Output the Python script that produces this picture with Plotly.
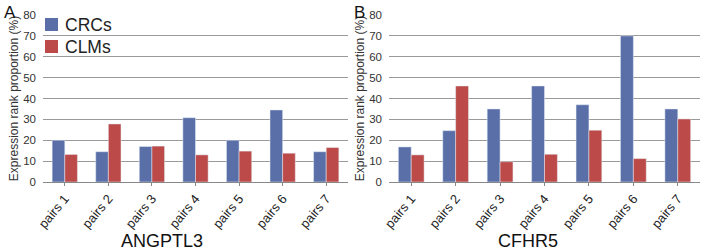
import plotly.graph_objects as go

categories = ["pairs 1", "pairs 2", "pairs 3", "pairs 4", "pairs 5", "pairs 6", "pairs 7"]
angptl3_crc = [20.0, 14.5, 17.0, 30.8, 20.0, 34.5, 14.5]
angptl3_clm = [13.2, 27.8, 17.2, 13.0, 14.8, 13.8, 16.5]
cfhr5_crc = [16.8, 24.6, 35.0, 46.0, 37.0, 70.0, 35.0]
cfhr5_clm = [13.0, 46.0, 9.7, 13.3, 24.8, 11.2, 30.2]
yticks = [0, 10, 20, 30, 40, 50, 60, 70, 80]
series_names = ["CRCs", "CLMs"]

BLUE = "#5A6FA8"
RED = "#BC4A48"
FONT = "Liberation Sans, Arial, sans-serif"

fig = go.Figure()
fig.add_trace(go.Bar(x=categories, y=angptl3_crc, name=series_names[0], marker_color=BLUE,
                     xaxis="x", yaxis="y", showlegend=False))
fig.add_trace(go.Bar(x=categories, y=angptl3_clm, name=series_names[1], marker_color=RED,
                     xaxis="x", yaxis="y", showlegend=False))
fig.add_trace(go.Bar(x=categories, y=cfhr5_crc, name=series_names[0], marker_color=BLUE,
                     xaxis="x2", yaxis="y2", showlegend=False))
fig.add_trace(go.Bar(x=categories, y=cfhr5_clm, name=series_names[1], marker_color=RED,
                     xaxis="x2", yaxis="y2", showlegend=False))

W, H = 704, 251
ydom = [(H - 182) / H, (H - 15) / H]

xcommon = dict(showgrid=False, showline=True, linecolor="#888", linewidth=1,
               ticks="outside", ticklen=3, tickcolor="#888", tickangle=-50,
               automargin=False,
               tickfont=dict(family=FONT, size=13, color="#222"))
ycommon = dict(range=[0, 80], tickvals=yticks, showgrid=True, gridcolor="#9a9a9a",
               gridwidth=1, showline=False, zeroline=False, ticks="",
               automargin=False, ticklabelstandoff=6,
               tickfont=dict(family=FONT, size=11.5, color="#333"),
               title=dict(text="Expression rank proportion (%)",
                          font=dict(family=FONT, size=12, color="#333"), standoff=2))


def px_x(v):
    return v / W


def px_y(v):
    return (H - v) / H


shapes = [
    dict(type="rect", xref="paper", yref="paper", x0=px_x(45), x1=px_x(58),
         y0=px_y(31), y1=px_y(18), fillcolor=BLUE, line=dict(width=0)),
    dict(type="rect", xref="paper", yref="paper", x0=px_x(45), x1=px_x(58),
         y0=px_y(53), y1=px_y(40), fillcolor=RED, line=dict(width=0)),
]

annotations = [
    dict(text=series_names[0], x=px_x(63), y=px_y(25), xanchor="left", yanchor="middle",
         font=dict(family=FONT, size=17.5, color="#222")),
    dict(text=series_names[1], x=px_x(63), y=px_y(47), xanchor="left", yanchor="middle",
         font=dict(family=FONT, size=17.5, color="#222")),
    dict(text="A", x=px_x(2), y=px_y(1), xanchor="left", yanchor="top",
         font=dict(family=FONT, size=17, color="#111")),
    dict(text="B", x=px_x(352), y=px_y(1), xanchor="left", yanchor="top",
         font=dict(family=FONT, size=17, color="#111")),
    dict(text="ANGPTL3", x=px_x(162), y=px_y(241), xanchor="center", yanchor="middle",
         font=dict(family=FONT, size=18, color="#111")),
    dict(text="CFHR5", x=px_x(528), y=px_y(241), xanchor="center", yanchor="middle",
         font=dict(family=FONT, size=18, color="#111")),
]
for a in annotations:
    a.update(xref="paper", yref="paper", showarrow=False)

fig.update_layout(
    width=W, height=H,
    margin=dict(l=0, r=0, t=0, b=0, autoexpand=False),
    paper_bgcolor="white", plot_bgcolor="white",
    barmode="group", bargap=0.42, bargroupgap=0,
    xaxis=dict(domain=[43 / W, 348 / W], anchor="y", **xcommon),
    yaxis=dict(domain=ydom, anchor="x", **ycommon),
    xaxis2=dict(domain=[389 / W, 700 / W], anchor="y2", **xcommon),
    yaxis2=dict(domain=ydom, anchor="x2", **ycommon),
    showlegend=False,
    font=dict(family=FONT),
    shapes=shapes,
    annotations=annotations,
)

fig.write_html("out.html", config={"displayModeBar": False},
               post_script="document.body.style.margin='0';")
